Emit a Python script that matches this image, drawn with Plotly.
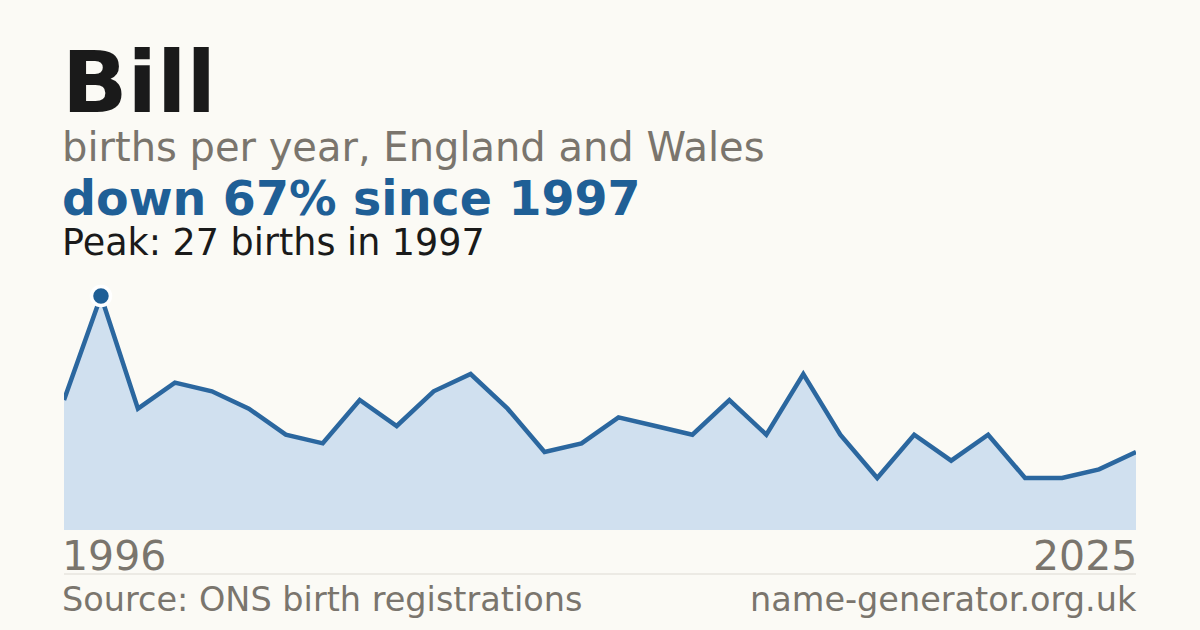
import plotly.graph_objects as go

years = list(range(1996, 2026))
births = [15, 27, 14, 17, 16, 14, 11, 10, 15, 12, 16, 18, 14, 9, 10, 13, 12, 11,
          15, 11, 18, 11, 6, 11, 8, 11, 6, 6, 7, 9]
peak_year = 1997
peak_value = 27

title_text = "Bill"
subtitle_text = "births per year, England and Wales"
headline_text = "down 67% since 1997"
peak_text = "Peak: 27 births in 1997"
source_text = "Source: ONS birth registrations"
site_text = "name-generator.org.uk"
first_label = "1996"
last_label = "2025"

BG = "#fbfaf5"
BLUE = "#1f5f96"
LINE = "#2b679f"
FILL = "#d0e0ef"
GRAY = "#7a756d"
DARK = "#1a1a1a"
FONT = "DejaVu Sans"

L, R, T, B = 64, 64, 270, 100
W, H = 1200, 630
PH = H - T - B


def py(px):
    return (H - B - px) / PH


fig = go.Figure()
fig.add_trace(go.Scatter(
    x=years, y=births, mode="lines",
    line=dict(color=LINE, width=4.5),
    fill="tozeroy", fillcolor=FILL,
    hoverinfo="skip", showlegend=False,
))
fig.add_trace(go.Scatter(
    x=[peak_year], y=[peak_value], mode="markers",
    marker=dict(color=BLUE, size=19, line=dict(color="white", width=3.5)),
    hoverinfo="skip", showlegend=False,
))

ann = []


def add(text, x, ypx, size, color, xanchor="left", bold=False):
    ann.append(dict(
        text=f"<b>{text}</b>" if bold else text,
        x=x, y=py(ypx), xref="paper", yref="paper",
        xanchor=xanchor, yanchor="middle", showarrow=False,
        font=dict(family=FONT, size=size, color=color),
    ))


add(title_text, -0.004, 82, 86, DARK, bold=True)
add(subtitle_text, -0.004, 147, 40, GRAY)
add(headline_text, -0.004, 198, 47.5, BLUE, bold=True)
add(peak_text, -0.004, 243, 36.5, DARK)
add(first_label, -0.004, 556, 41, GRAY)
add(last_label, 1.003, 556, 41, GRAY, xanchor="right")
add(source_text, -0.004, 599, 33.5, GRAY)
add(site_text, 1.003, 599, 33.5, GRAY, xanchor="right")

fig.update_layout(
    width=W, height=H,
    margin=dict(l=L, r=R, t=T, b=B),
    paper_bgcolor=BG, plot_bgcolor=BG,
    xaxis=dict(range=[years[0], years[-1]], visible=False, fixedrange=True),
    yaxis=dict(range=[0, 30], visible=False, fixedrange=True),
    annotations=ann,
    shapes=[dict(type="line", xref="paper", yref="paper",
                 x0=0, x1=1, y0=py(574), y1=py(574),
                 line=dict(color="#dddad3", width=1))],
)

fig.write_html(
    "out.html",
    config={"displayModeBar": False},
    post_script="document.body.style.margin='0';document.body.style.background='%s';" % BG,
)
